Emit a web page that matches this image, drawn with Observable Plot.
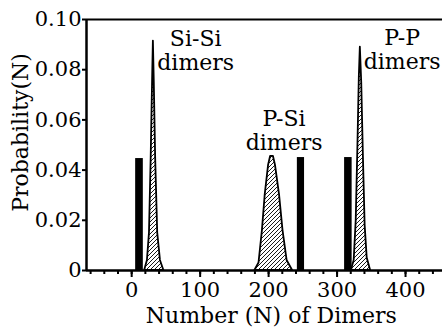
<!DOCTYPE html>
<html>
<head>
<meta charset="utf-8">
<script src="https://cdn.jsdelivr.net/npm/d3@7"></script>
<script src="https://cdn.jsdelivr.net/npm/@observablehq/plot@0.6"></script>
<style>
  html, body { margin: 0; padding: 0; background: #fff; }
  svg { display: block; }
</style>
</head>
<body>
<div id="chart"></div>
<script>
// Hatched distributions (N, probability)
const siSiN = [19, 23, 26, 28.5, 30.5, 31.7, 33, 35, 38, 42, 47];
const siSiP = [0, 0.004, 0.015, 0.045, 0.075, 0.0914, 0.075, 0.045, 0.015, 0.004, 0];
const pSiN = [180, 186, 191, 195, 200, 203, 207, 210, 216, 221, 227, 235];
const pSiP = [0, 0.003, 0.016, 0.03, 0.042, 0.0455, 0.0455, 0.042, 0.03, 0.016, 0.004, 0];
const pPN = [321, 325, 328, 330.5, 332.5, 334, 336, 338.5, 341, 344, 349];
const pPP = [0, 0.004, 0.02, 0.05, 0.077, 0.089, 0.075, 0.045, 0.018, 0.005, 0];

// Black bars (N start, N end, probability)
const barStart = [5.8, 242, 311];
const barEnd = [17, 252.5, 322];
const barP = [0.0446, 0.045, 0.045];

// Labels
const labelText = ["Si-Si\ndimers", "P-Si\ndimers", "P-P\ndimers"];
const labelN = [93.5, 222.6, 395];
const labelP = [0.0878, 0.0558, 0.0882];

const yTicks = [0, 0.02, 0.04, 0.06, 0.08, 0.10];
const yTickLabels = ["0", "0.02", "0.04", "0.06", "0.08", "0.10"];
const xTicks = [0, 100, 200, 300, 400];
const xMinorTicks = d3.range(-60, 460, 20);
const xDomain = [-66, 454];
const yDomain = [0, 0.1];
const xTitle = "Number (N) of Dimers";
const yTitle = "Probability(N)";

const peak = (ns, ps, name) => ns.map((n, i) => ({n, p: ps[i], name}));
const peaks = [...peak(siSiN, siSiP, "SiSi"), ...peak(pSiN, pSiP, "PSi"), ...peak(pPN, pPP, "PP")];
const bars = barStart.map((s, i) => ({x1: s, x2: barEnd[i], p: barP[i]}));
const labels = labelText.map((t, i) => ({t, n: labelN[i], p: labelP[i]}));

const font = "DejaVu Serif";

const svg = Plot.plot({
  width: 442,
  height: 328,
  marginLeft: 86,
  marginTop: 19,
  marginBottom: 58,
  marginRight: 0,
  style: {fontFamily: font, background: "#fff", color: "#000"},
  x: {domain: xDomain},
  y: {domain: yDomain},
  marks: [
    Plot.areaY(peaks, {x: "n", y: "p", z: "name", fill: "url(#hatch)", stroke: "#000", strokeWidth: 1.8, curve: "linear"}),
    Plot.rectY(bars, {x1: "x1", x2: "x2", y: "p", fill: "#000"}),
    Plot.ruleX([xDomain[0]], {stroke: "#000", strokeWidth: 2.5}),
    Plot.ruleY([yDomain[1]], {stroke: "#000", strokeWidth: 2.2}),
    Plot.ruleY([0], {stroke: "#000", strokeWidth: 2.5}),
    Plot.axisY({ticks: yTicks, tickFormat: (d) => yTickLabels[yTicks.indexOf(d)], tickSize: 4, tickPadding: 1, fontSize: 21, strokeWidth: 2, label: null}),
    Plot.axisX({ticks: xMinorTicks, tickFormat: null, text: null, tickSize: 4, strokeWidth: 2, label: null}),
    Plot.axisX({ticks: xTicks, tickFormat: d => String(d), tickSize: 7, tickPadding: 5, fontSize: 21, strokeWidth: 2, label: null}),
    Plot.text(labels, {x: "n", y: "p", text: "t", fontSize: 22, lineHeight: 1.1, lineAnchor: "middle", textAnchor: "middle", fill: "#000"}),
    Plot.text([xTitle], {x: 204, frameAnchor: "bottom", dy: 45, fontSize: 22, lineAnchor: "middle", textAnchor: "middle", fill: "#000"}),
    Plot.text([yTitle], {frameAnchor: "left", dx: -66, dy: -12.5, rotate: -90, fontSize: 22, lineAnchor: "middle", textAnchor: "middle", fill: "#000"})
  ]
});

const ns = "http://www.w3.org/2000/svg";
const defs = document.createElementNS(ns, "defs");
const pat = document.createElementNS(ns, "pattern");
pat.setAttribute("id", "hatch");
pat.setAttribute("patternUnits", "userSpaceOnUse");
pat.setAttribute("width", "4");
pat.setAttribute("height", "4");
const bg = document.createElementNS(ns, "rect");
bg.setAttribute("width", "4");
bg.setAttribute("height", "4");
bg.setAttribute("fill", "#fff");
const path = document.createElementNS(ns, "path");
path.setAttribute("d", "M-1,1 l2,-2 M0,4 l4,-4 M3,5 l2,-2");
path.setAttribute("stroke", "#000");
path.setAttribute("stroke-width", "0.9");
pat.appendChild(bg);
pat.appendChild(path);
defs.appendChild(pat);
svg.insertBefore(defs, svg.firstChild);

document.getElementById("chart").appendChild(svg);
</script>
</body>
</html>
